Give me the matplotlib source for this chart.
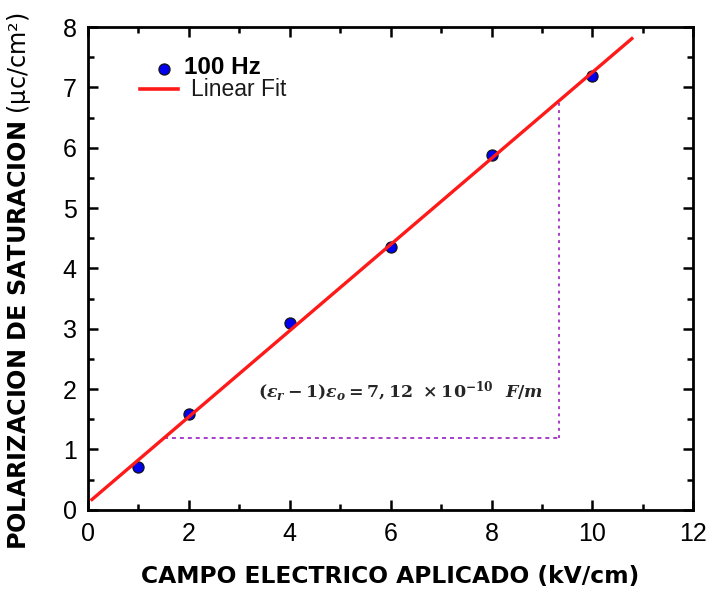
import numpy as np
import matplotlib
matplotlib.use("Agg")
import matplotlib.pyplot as plt
from matplotlib.lines import Line2D
from matplotlib.ticker import MultipleLocator

plt.rcParams['font.family'] = ['Liberation Sans', 'DejaVu Sans']
plt.rcParams['mathtext.fontset'] = 'custom'
plt.rcParams['mathtext.it'] = 'DejaVu Serif:bold:italic'
plt.rcParams['mathtext.rm'] = 'DejaVu Serif:bold'
plt.rcParams['mathtext.bf'] = 'DejaVu Sans:bold'

# Measured saturation polarization at 100 Hz
campo = [1, 2, 4, 6, 8, 10]                 # kV/cm
polarizacion = [0.71, 1.59, 3.09, 4.35, 5.88, 7.19]   # uC/cm^2

x_ticks = [0, 2, 4, 6, 8, 10, 12]
y_ticks = [0, 1, 2, 3, 4, 5, 6, 7, 8]

slope, intercept = np.polyfit(campo, polarizacion, 1)

fig = plt.figure(figsize=(7.09, 5.90), dpi=100)
ax = fig.add_axes([0.124, 0.136, 0.854, 0.818])

# fitted line
xf = np.array([0.08, 10.78])
ax.plot(xf, slope * xf + intercept, color='#ff1a1a', lw=2.4, zorder=3)
ax.plot(campo, polarizacion, 'o', color='#0000ee', mec='#151515', mew=0.9,
        ms=8, zorder=2)

# slope triangle
y_lo = 1.19
x_lo = (y_lo - intercept) / slope
x_hi = 9.33
y_hi = slope * x_hi + intercept
purple = '#a22cc4'
ax.plot([x_lo, x_hi], [y_lo, y_lo], ls=(0, (2.2, 2.2)), color=purple, lw=1.3)
ax.plot([x_hi, x_hi], [y_lo, y_hi], ls=(0, (1.6, 2.4)), color=purple, lw=1.3)

ax.text(6.19, 1.95, r'$(\varepsilon_r-1)\varepsilon_o=7,12\ \times 10^{-10}\ \ F/m$',
        ha='center', va='center', fontsize=12.5, color='#262626')

ax.set_xlim(0, 12)
ax.set_ylim(0, 8)
ax.set_xticks(x_ticks)
ax.set_yticks(y_ticks)
ax.xaxis.set_minor_locator(MultipleLocator(1))
ax.yaxis.set_minor_locator(MultipleLocator(0.5))
ax.tick_params(which='both', direction='in', top=True, right=True, width=1.8,
               labelsize=18, colors='black')
ax.tick_params(which='major', length=7)
ax.tick_params(axis='x', which='major', pad=9)
ax.tick_params(axis='y', which='major', pad=8)
ax.tick_params(which='minor', length=4)
for s in ax.spines.values():
    s.set_linewidth(2)

fig.text(0.550, 1 - 576 / 590, 'CAMPO ELECTRICO APLICADO (kV/cm)',
         ha='center', va='center', fontsize=16.8, fontweight='bold',
         family='DejaVu Sans')
fig.text(19 / 709, 1 - 281 / 590,
         r'$\mathbf{POLARIZACION\ DE\ SATURACION}$ (μc/cm²)',
         ha='center', va='center', rotation=90, fontsize=17.2,
         family='DejaVu Sans')

# legend
fig.add_artist(Line2D([164 / 709], [1 - 69 / 590], marker='o', color='#0000ee',
                      mec='#151515', mew=0.9, ms=8, ls='none'))
fig.text(184 / 709, 1 - 67 / 590, '100 Hz', ha='left', va='center',
         fontsize=17.5, fontweight='bold')
fig.add_artist(Line2D([140 / 709, 178 / 709], [1 - 89 / 590, 1 - 89 / 590],
                      color='#ff1a1a', lw=2.6))
fig.text(191 / 709, 1 - 89 / 590, 'Linear Fit', ha='left', va='center',
         fontsize=16.5, color='#1a1a1a')

fig.savefig('out.png', dpi=100)
